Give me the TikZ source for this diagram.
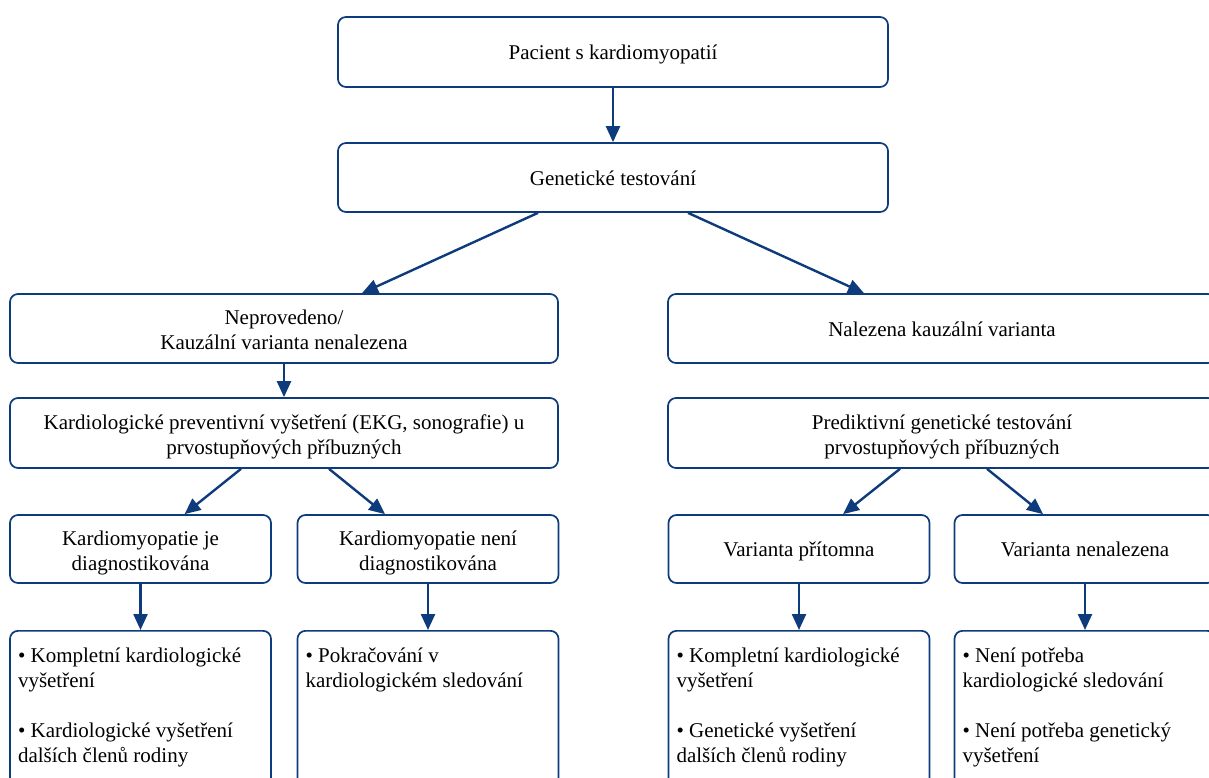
\documentclass[tikz,border=0pt]{standalone}
\usepackage{fontspec}
\setmainfont{Liberation Serif}
\usepackage{tikz}
\usetikzlibrary{arrows.meta,positioning,calc}
\definecolor{boxblue}{HTML}{0D3B7C}
\newcommand{\flowfont}{\fontsize{21pt}{25pt}\selectfont}
\tikzset{
  frame/.style={draw=boxblue,fill=white,line width=1.7pt,rounded corners=8pt,
                inner sep=4pt,font=\flowfont},
  box/.style={frame,align=center,text height=20.6pt,text depth=5pt},
  twoline/.style={text height=47.6pt},
  widebox/.style={box,minimum width=548pt,minimum height=69pt},
  smallbox/.style={box,minimum width=261pt,minimum height=68pt},
  outbox/.style={frame,align=left,anchor=north,inner xsep=8pt,inner ysep=17pt},
  flow/.style={-{Triangle[length=16pt,width=14pt]},line width=2.4pt,boxblue},
}

\begin{document}
\begin{tikzpicture}[x=1pt,y=-1pt]
  \useasboundingbox (0,0) rectangle (1209,778);
  \clip (0,0) rectangle (1209,778);
  % top
  \node[box,minimum width=550pt,minimum height=70pt] (pac) at (613,52)
    {Pacient s kardiomyopatií};
  \node[box,minimum width=550pt,minimum height=69pt] (gen) at (613,177.5)
    {Genetické testování};
  % two branches
  \node[widebox,twoline] (nepr) at (284,328.5) {Neprovedeno/\\Kauzální varianta nenalezena};
  \node[widebox] (nal) at (942,328.5) {Nalezena kauzální varianta};
  \node[widebox,twoline,minimum height=70pt] (kprev) at (284,433)
    {Kardiologické preventivní vyšetření (EKG, sonografie) u\\prvostupňových příbuzných};
  \node[widebox,twoline,minimum height=70pt] (pred) at (942,433)
    {Prediktivní genetické testování\\prvostupňových příbuzných};
  % results
  \node[smallbox,twoline] (kdiag) at (140.5,549) {Kardiomyopatie je\\diagnostikována};
  \node[smallbox,twoline] (kne) at (428,549) {Kardiomyopatie není\\diagnostikována};
  \node[smallbox] (vpri) at (799,549) {Varianta přítomna};
  \node[smallbox] (vnen) at (1085,549) {Varianta nenalezena};
  % what follows
  \node[outbox] (kdiagout) at (140.5,630) {\parbox[t][150pt][t]{245pt}{%
    • Kompletní kardiologické\\vyšetření\\[25pt]
    • Kardiologické vyšetření\\dalších členů rodiny}};
  \node[outbox] (kneout) at (428,630) {\parbox[t][150pt][t]{245pt}{%
    • Pokračování v\\kardiologickém sledování}};
  \node[outbox] (vpriout) at (799,630) {\parbox[t][150pt][t]{245pt}{%
    • Kompletní kardiologické\\vyšetření\\[25pt]
    • Genetické vyšetření\\dalších členů rodiny}};
  \node[outbox] (vnenout) at (1085,630) {\parbox[t][150pt][t]{245pt}{%
    • Není potřeba\\kardiologické sledování\\[25pt]
    • Není potřeba genetický\\vyšetření}};
  % arrows
  \draw[flow] (pac) -- (gen);
  \draw[flow] ($(gen.south)+(-75,0)$) -- ($(nepr.north)+(78,0)$);
  \draw[flow] ($(gen.south)+(75,0)$) -- ($(nal.north)+(-78,0)$);
  \draw[flow] (nepr) -- (kprev);
  \draw[flow] ($(kprev.south)+(-43,0)$) -- ($(kdiag.north)+(44,0)$);
  \draw[flow] ($(kprev.south)+(45,0)$) -- ($(kne.north)+(-43,0)$);
  \draw[flow] ($(pred.south)+(-42,0)$) -- ($(vpri.north)+(44,0)$);
  \draw[flow] ($(pred.south)+(45,0)$) -- ($(vnen.north)+(-42,0)$);
  \draw[flow] (kdiag) -- (kdiagout);
  \draw[flow] (kne) -- (kneout);
  \draw[flow] (vpri) -- (vpriout);
  \draw[flow] (vnen) -- (vnenout);
\end{tikzpicture}
\end{document}
